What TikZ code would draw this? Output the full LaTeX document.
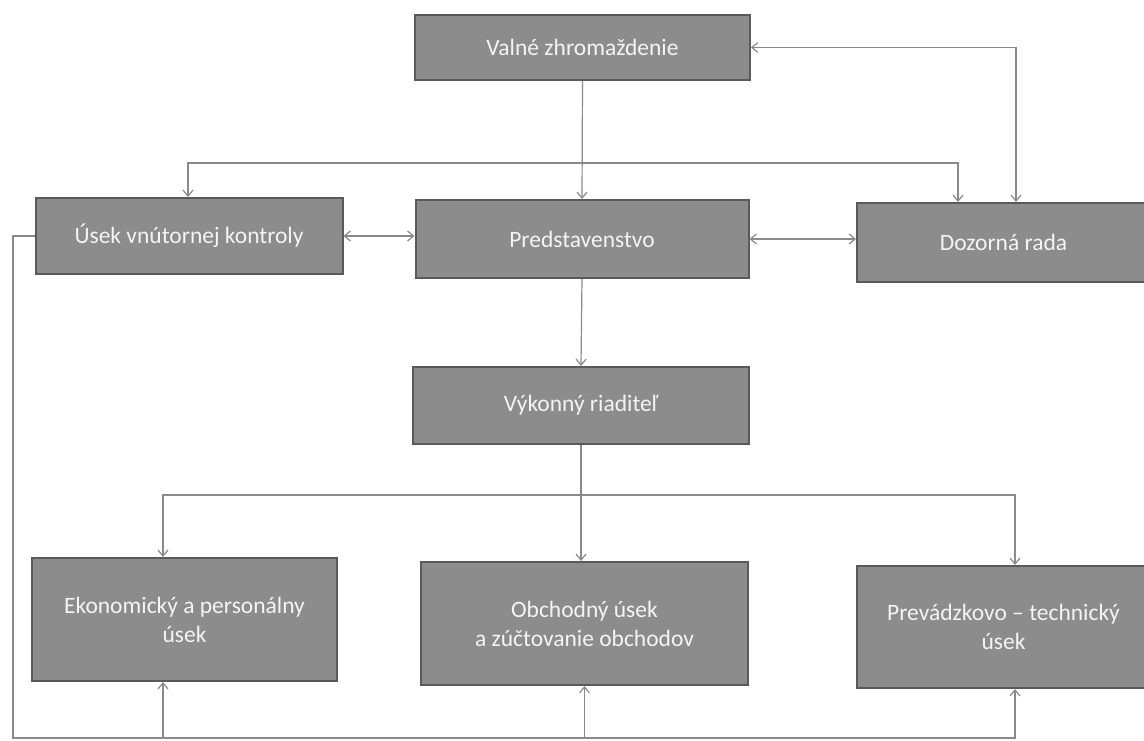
\documentclass[tikz,border=0pt]{standalone}
\usepackage{fontspec}
\setmainfont{Carlito}
\usetikzlibrary{arrows.meta,calc}
\definecolor{boxfill}{HTML}{8C8C8C}
\definecolor{boxedge}{HTML}{5A5A5A}
\definecolor{boxtext}{HTML}{F4F4F4}
\definecolor{linegray}{HTML}{8A8A8A}
\tikzset{
  orgbox/.style={draw=boxedge, line width=2pt, fill=boxfill, text=boxtext,
    font=\fontsize{23.5}{29}\selectfont, align=center, inner sep=0pt,
    rectangle, anchor=center},
  conn/.style={draw=linegray, line width=1.2pt},
  tip/.style={conn, -{Straight Barb[length=6pt,width=10pt]}},
  tips/.style={conn, {Straight Barb[length=6pt,width=10pt]}-{Straight Barb[length=6pt,width=10pt]}}
}
\begin{document}
\begin{tikzpicture}[x=1pt,y=-1pt]
\clip (0,0) rectangle (1144,740);
\fill[white] (0,0) rectangle (1144,740);
% boxes
\node[orgbox, minimum width=335pt, minimum height=65pt] (valne) at (582.5,47.5) {Valné zhromaždenie};
\node[orgbox, minimum width=307pt, minimum height=76pt] (usek) at (189,236) {Úsek vnútornej kontroly};
\node[orgbox, minimum width=333pt, minimum height=78pt] (pred) at (582,239) {Predstavenstvo};
\node[orgbox, minimum width=293pt, minimum height=79pt] (dozor) at (1003.5,242.5) {Dozorná rada};
\node[orgbox, minimum width=336pt, minimum height=77pt] (vyk) at (581,405.5) {Výkonný riaditeľ};
\node[orgbox, minimum width=305pt, minimum height=123pt] (ekon) at (184.5,619.5) {Ekonomický a personálny\\úsek};
\node[orgbox, minimum width=327pt, minimum height=123pt] (obch) at (584.5,623.5) {Obchodný úsek\\a zúčtovanie obchodov};
\node[orgbox, minimum width=293pt, minimum height=122pt] (prev) at (1003.5,627) {Prevádzkovo – technický\\úsek};
% bend points
\coordinate (cr) at (1016,47.5);
\coordinate (tl) at (188,163);
\coordinate (tr) at (958,163);
\coordinate (bl) at (163,495);
\coordinate (br) at (1015,495);
\coordinate (lt) at (13,236);
\coordinate (lb) at (13,738);
\coordinate (rb) at (1015,738);
% connectors
\draw[tip] (valne.south) -- (pred.north);
\draw[tips] (valne.east) -- (cr) -- (cr |- dozor.north);
\draw[tips] (tl |- usek.north) -- (tl) -- (tr) -- (tr |- dozor.north);
\draw[tips] (usek.east) -- (usek.east -| pred.west);
\draw[tips] (pred.east) -- (pred.east -| dozor.west);
\draw[tip] (pred.south) -- (vyk.north);
\draw[tip] (vyk.south) -- (vyk.south |- obch.north);
\draw[tips] (bl |- ekon.north) -- (bl) -- (br) -- (br |- prev.north);
\draw[tip] (usek.west) -- (lt) -- (lb) -- (rb) -- (rb |- prev.south);
\draw[tip] (bl |- lb) -- (bl |- ekon.south);
\draw[tip] (obch.south |- lb) -- (obch.south);
\end{tikzpicture}
\end{document}
